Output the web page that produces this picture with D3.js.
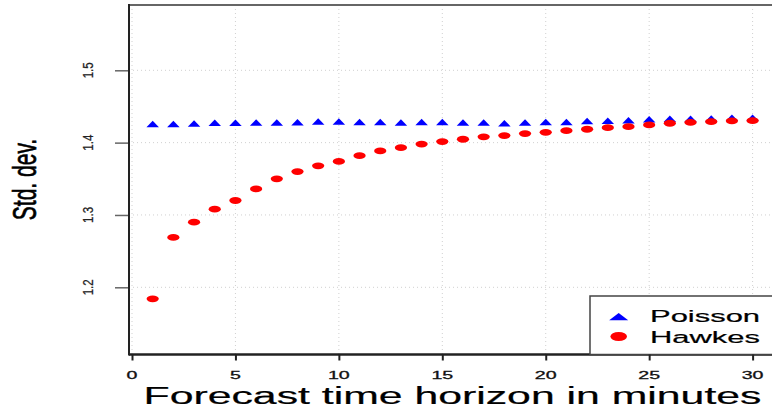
<!DOCTYPE html>
<html><head><meta charset="utf-8">
<script src="https://cdn.jsdelivr.net/npm/d3@7"></script>
<style>html,body{margin:0;padding:0;background:#fff;overflow:hidden}svg{display:block}</style>
</head><body><svg id="c" width="772" height="412"></svg>
<script>
// ---- data ----
const horizons = [1,2,3,4,5,6,7,8,9,10,11,12,13,14,15,16,17,18,19,20,21,22,23,24,25,26,27,28,29,30];
const poisson = [1.4243,1.4243,1.4249,1.4259,1.4260,1.4262,1.4262,1.4267,1.4276,1.4276,1.4271,1.4270,1.4265,1.4271,1.4271,
                 1.4262,1.4262,1.4254,1.4262,1.4270,1.4272,1.4283,1.4289,1.4294,1.4308,1.4314,1.4315,1.4320,1.4328,1.4328];
const hawkes = [1.184,1.269,1.290,1.308,1.320,1.336,1.350,1.360,1.368,1.374,1.382,1.3885,1.393,1.398,1.4015,
                1.4047,1.408,1.4097,1.4125,1.4143,1.4166,1.4185,1.4207,1.422,1.4245,1.4268,1.428,1.429,1.430,1.4304];
const xTicks = [0,5,10,15,20,25,30];
const yTicks = [1.2,1.3,1.4,1.5];
const seriesNames = ["Poisson","Hawkes"];
const seriesColors = ["#0000ff","#ff0000"];
const xTitle = "Forecast time horizon in minutes";
const yTitle = "Std. dev.";

// ---- layout ----
const L = 129, T = 5, B = 354.5, R = 778;
const svg = d3.select("#c");
const FONT = "'Liberation Sans', Arial, Helvetica, sans-serif";

const x = d3.scaleLinear().domain([0,30]).range([132,752.6]);
const y = d3.scaleLinear().domain([1.2,1.5]).range([287.3,70.3]);

// grid
const grid = svg.append("g").attr("stroke","#d0d0d0").attr("stroke-width",1).attr("stroke-dasharray","1,3");
grid.selectAll("line.v").data(xTicks).join("line").attr("class","v")
  .attr("x1",d=>x(d)).attr("x2",d=>x(d)).attr("y1",T).attr("y2",B);
grid.selectAll("line.h").data(yTicks).join("line").attr("class","h")
  .attr("x1",L).attr("x2",R).attr("y1",d=>y(d)).attr("y2",d=>y(d));

// axes ticks
const gx = svg.append("g").attr("transform",`translate(0,${B})`)
  .call(d3.axisBottom(x).tickValues(xTicks).tickSize(6).tickFormat(""));
gx.select(".domain").remove();
gx.selectAll(".tick line").attr("stroke","#222").attr("stroke-width",2);

const gy = svg.append("g").attr("transform",`translate(${L},0)`)
  .call(d3.axisLeft(y).tickValues(yTicks).tickSize(14).tickFormat(""));
gy.select(".domain").remove();
gy.selectAll(".tick line").attr("stroke","#666").attr("stroke-width",1.5);

// tick labels
svg.append("g").selectAll("text").data(xTicks).join("text")
  .attr("transform",d=>`translate(${x(d)},378.5) scale(1.75,1)`)
  .attr("text-anchor","middle").attr("font-family",FONT).attr("font-size",11.2)
  .attr("fill","#111").attr("stroke","#111").attr("stroke-width",0.3)
  .text(d=>d);
svg.append("g").selectAll("text").data(yTicks).join("text")
  .attr("transform",d=>`translate(93,${y(d)}) rotate(-90) scale(0.96,1.2)`)
  .attr("text-anchor","middle").attr("font-family",FONT).attr("font-size",12)
  .attr("fill","#222").attr("stroke","#222").attr("stroke-width",0.2)
  .text(d=>d3.format(".1f")(d));

// titles
svg.append("text").attr("transform","translate(452.5,404) scale(1.86,1)")
  .attr("text-anchor","middle").attr("font-family",FONT).attr("font-size",23)
  .attr("fill","#000").attr("stroke","#000").attr("stroke-width",0.2).text(xTitle);
svg.append("text").attr("transform","translate(35.5,179.5) rotate(-90) scale(0.955,1.5)")
  .attr("text-anchor","middle").attr("font-family",FONT).attr("font-size",22)
  .attr("fill","#000").attr("stroke","#000").attr("stroke-width",0.45).text(yTitle);

// markers
const tri = (cx,cy,w,h)=>`M${cx},${cy-h*2/3}L${cx+w/2},${cy+h/3}L${cx-w/2},${cy+h/3}Z`;
svg.append("g").selectAll("path").data(horizons).join("path")
  .attr("d",(d,i)=>tri(x(d),y(poisson[i]),12.5,6.5)).attr("fill",seriesColors[0]);
svg.append("g").selectAll("ellipse").data(horizons).join("ellipse")
  .attr("cx",d=>x(d)).attr("cy",(d,i)=>y(hawkes[i])).attr("rx",6.1).attr("ry",3.4)
  .attr("fill",seriesColors[1]);

// plot frame
svg.append("line").attr("x1",L).attr("x2",R).attr("y1",T).attr("y2",T).attr("stroke","#666").attr("stroke-width",2);
svg.append("line").attr("x1",L).attr("x2",L).attr("y1",T-1).attr("y2",B+1).attr("stroke","#222").attr("stroke-width",2);
svg.append("line").attr("x1",L).attr("x2",R).attr("y1",B).attr("y2",B).attr("stroke","#222").attr("stroke-width",2.5);

// legend
const lg = svg.append("g");
lg.append("rect").attr("x",590).attr("y",296).attr("width",R-590).attr("height",B-296)
  .attr("fill","#fff").attr("stroke","#444").attr("stroke-width",1.5);
const lgRows = [315.5,336.5];
lg.append("path").attr("d",tri(618.7,lgRows[0]+2.4,19,7.3)).attr("fill",seriesColors[0]);
lg.append("ellipse").attr("cx",618.7).attr("cy",lgRows[1]).attr("rx",8.3).attr("ry",4.6).attr("fill",seriesColors[1]);
lg.selectAll("text").data(seriesNames).join("text")
  .attr("transform",(d,i)=>`translate(650,${lgRows[i]+6.5}) scale(1.82,1)`)
  .attr("font-family",FONT).attr("font-size",17).attr("fill","#000")
  .attr("stroke","#000").attr("stroke-width",0.2).text(d=>d);
gx.raise();
</script></body></html>
